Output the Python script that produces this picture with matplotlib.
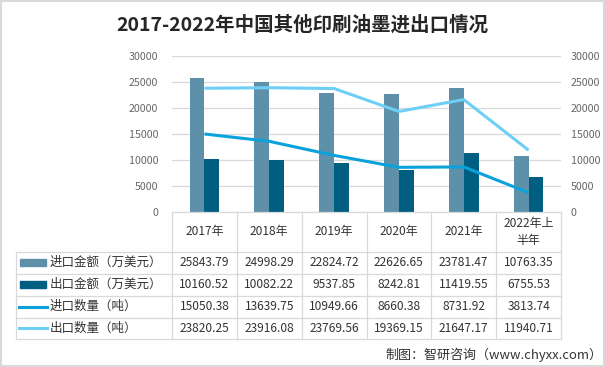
import numpy as np
import matplotlib
matplotlib.use('Agg')
import matplotlib.pyplot as plt
from matplotlib import transforms
from matplotlib.lines import Line2D
from matplotlib.patches import Rectangle

plt.rcParams['font.family'] = ['Noto Sans CJK SC', 'DejaVu Sans']

categories = ['2017年', '2018年', '2019年', '2020年', '2021年', '2022年上\n半年']
import_value = [25843.79, 24998.29, 22824.72, 22626.65, 23781.47, 10763.35]
export_value = [10160.52, 10082.22, 9537.85, 8242.81, 11419.55, 6755.53]
import_qty = [15050.38, 13639.75, 10949.66, 8660.38, 8731.92, 3813.74]
export_qty = [23820.25, 23916.08, 23769.56, 19369.15, 21647.17, 11940.71]
series_names = ['进口金额（万美元）', '出口金额（万美元）', '进口数量（吨）', '出口数量（吨）']
series_colors = ['#5e90a9', '#005f80', '#0ba2dc', '#6dcff6']

W, H = 605, 367
fx = lambda x: x / W
fy = lambda y: 1 - y / H

fig = plt.figure(figsize=(W / 100, H / 100), dpi=100)
fig.patch.set_facecolor('white')

# plot area
ax = fig.add_axes([fx(172), fy(212.5), fx(561) - fx(172), fy(56) - fy(212.5)])
x = np.arange(len(categories))
bw = 0.23
ax.bar(x - bw / 2, import_value, bw, color=series_colors[0], zorder=2)
ax.bar(x + bw / 2, export_value, bw, color=series_colors[1], zorder=2)
ax.set_xlim(-0.5, len(categories) - 0.5)
ax.set_ylim(0, 30000)
ax.set_yticks(np.arange(0, 30001, 5000))
ax.set_xticks([])
ax.grid(axis='y', color='#d9d9d9', lw=0.9, zorder=0)
ax.tick_params(axis='y', length=0, labelsize=7.7, labelcolor='#666666', pad=10)
for s in ['left', 'right', 'top']:
    ax.spines[s].set_visible(False)
ax.spines['bottom'].set_color('#d9d9d9')
ax.spines['bottom'].set_linewidth(0.9)

ax2 = ax.twinx()
ax2.plot(x, import_qty, color=series_colors[2], lw=2.2, solid_capstyle='butt')
ax2.plot(x, export_qty, color=series_colors[3], lw=2.2, solid_capstyle='butt')
ax2.set_ylim(0, 30000)
ax2.set_yticks(np.arange(0, 30001, 5000))
ax2.tick_params(axis='y', length=0, labelsize=7.7, labelcolor='#666666', pad=7)
for s in ax2.spines.values():
    s.set_visible(False)

# data table under the axes
blend = transforms.blended_transform_factory(ax.transData, fig.transFigure)
grid_c = '#d9d9d9'
row_lines = [251.7, 273.5, 295.5, 317.5, 339.3]
for y in row_lines:
    fig.add_artist(Line2D([fx(16.3), fx(561.3)], [fy(y), fy(y)], color=grid_c, lw=0.9))
fig.add_artist(Line2D([fx(16.3), fx(16.3)], [fy(251.7), fy(339.3)], color=grid_c, lw=0.9))
fig.add_artist(Line2D([fx(172.3), fx(172.3)], [fy(212.5), fy(339.3)], color=grid_c, lw=0.9))
for b in np.arange(len(categories)) + 0.5:
    fig.add_artist(Line2D([b, b], [fy(212.5), fy(339.3)], color=grid_c, lw=0.9, transform=blend))

for i, c in enumerate(categories):
    fig.text(i, fy(232), c, transform=blend, ha='center', va='center', fontsize=8.6,
             color='#333333', linespacing=1.35)

table_rows = [import_value, export_value, import_qty, export_qty]
for r, (vals, name, col) in enumerate(zip(table_rows, series_names, series_colors)):
    yc = (row_lines[r] + row_lines[r + 1]) / 2
    if r < 2:
        fig.add_artist(Rectangle((fx(20), fy(yc + 3.7)), fx(45.7) - fx(20), fy(yc - 3.7) - fy(yc + 3.7),
                                 color=col, transform=fig.transFigure))
    else:
        fig.add_artist(Line2D([fx(19), fx(46.7)], [fy(yc), fy(yc)], color=col, lw=2.2))
    fig.text(fx(50), fy(yc), name, ha='left', va='center', fontsize=9, color='#333333')
    for i, v in enumerate(vals):
        fig.text(i, fy(yc), f'{v:.2f}', transform=blend, ha='center', va='center',
                 fontsize=8.6, color='#333333')

fig.text(0.5, fy(25), '2017-2022年中国其他印刷油墨进出口情况', ha='center', va='center',
         fontsize=14, fontweight='bold', color='#262626')
fig.text(fx(602), fy(355), '制图：智研咨询（www.chyxx.com）', ha='right', va='center',
         fontsize=9.4, color='#333333')

fig.add_artist(Rectangle((0.002, 0.003), 0.996, 0.994, fill=False, edgecolor='#d9d9d9',
                         lw=1.5, transform=fig.transFigure))

fig.savefig('out.png', dpi=100)
